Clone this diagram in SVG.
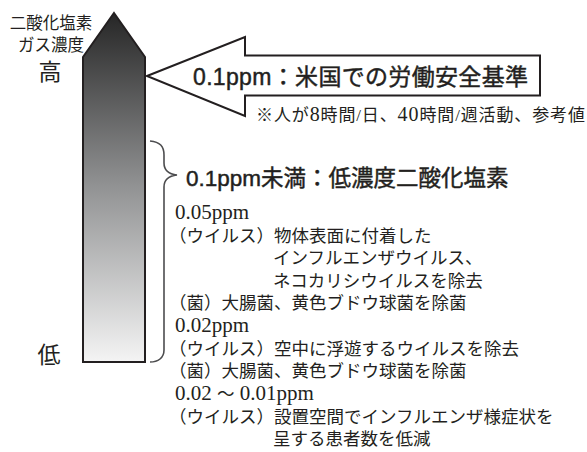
<svg xmlns="http://www.w3.org/2000/svg" width="587" height="452" viewBox="0 0 587 452">
  <defs>
    <linearGradient id="gaugeGrad" x1="0" y1="0" x2="0" y2="1">
      <stop offset="0" stop-color="#262626"/>
      <stop offset="0.5" stop-color="#929394"/>
      <stop offset="1" stop-color="#f4f4f4"/>
    </linearGradient>
  </defs>
  <style>
    .jp { font-family: "Liberation Serif", "Noto Sans CJK JP", serif; fill: #231f20; }
    .lab { font-size: 16.5px; text-anchor: middle; }
    .big { font-size: 23px; text-anchor: middle; }
    .body { font-size: 17.5px; }
    .num { font-size: 21px; }
    .head { font-family: "Liberation Sans", "Noto Sans CJK JP", sans-serif; fill: #231f20; stroke: #231f20; stroke-width: 0.45; }
    .outline { stroke: #231f20; stroke-width: 2; stroke-linejoin: miter; }
  </style>

  <g id="gauge">
    <polygon class="outline" points="114,13 145,57 145,362 83,362 83,57" fill="url(#gaugeGrad)"/>
  </g>

  <g id="axis-labels">
    <text class="jp lab" x="51" y="29">二酸化塩素</text>
    <text class="jp lab" x="51" y="51">ガス濃度</text>
    <text class="jp big" x="50" y="80">高</text>
    <text class="jp big" x="49" y="363">低</text>
  </g>

  <g id="us-standard">
    <polygon class="outline" points="147,76 245,37 245,55.5 540,55.5 540,95.5 245,95.5 245,116" fill="#ffffff"/>
    <text class="head" x="193" y="85" font-size="23" textLength="335" lengthAdjust="spacing">0.1ppm：米国での労働安全基準</text>
    <text class="jp" x="256" y="121" font-size="17" textLength="329" lengthAdjust="spacing">※人が<tspan font-size="20">8</tspan>時間/日、<tspan font-size="20">40</tspan>時間/週活動、参考値</text>
  </g>

  <g id="connectors">
    <path d="M150,141 C160,142 164,146 164,155 L164,163 C164,170 168,174 177,175 C168,176 164,180 164,187 L164,350 C164,358 158,362 150,362" fill="none" stroke="#4d4d4f" stroke-width="1.6"/>
  </g>

  <g id="low-concentration">
    <text class="head" x="186" y="186" font-size="22.5">0.1ppm未満：低濃度二酸化塩素</text>
    <text class="jp num" x="175" y="219">0.05ppm</text>
    <text class="jp body" x="169" y="241.5">（ウイルス）物体表面に付着した</text>
    <text class="jp body" x="273" y="264">インフルエンザウイルス、</text>
    <text class="jp body" x="273" y="286.5">ネコカリシウイルスを除去</text>
    <text class="jp body" x="169" y="309">（菌）大腸菌、黄色ブドウ球菌を除菌</text>
    <text class="jp num" x="175" y="332">0.02ppm</text>
    <text class="jp body" x="169" y="354.5">（ウイルス）空中に浮遊するウイルスを除去</text>
    <text class="jp body" x="169" y="377">（菌）大腸菌、黄色ブドウ球菌を除菌</text>
    <text class="jp num" x="175" y="400">0.02 <tspan font-size="17.5">～</tspan> 0.01ppm</text>
    <text class="jp body" x="169" y="422.5">（ウイルス）設置空間でインフルエンザ様症状を</text>
    <text class="jp body" x="273" y="445">呈する患者数を低減</text>
  </g>
</svg>
